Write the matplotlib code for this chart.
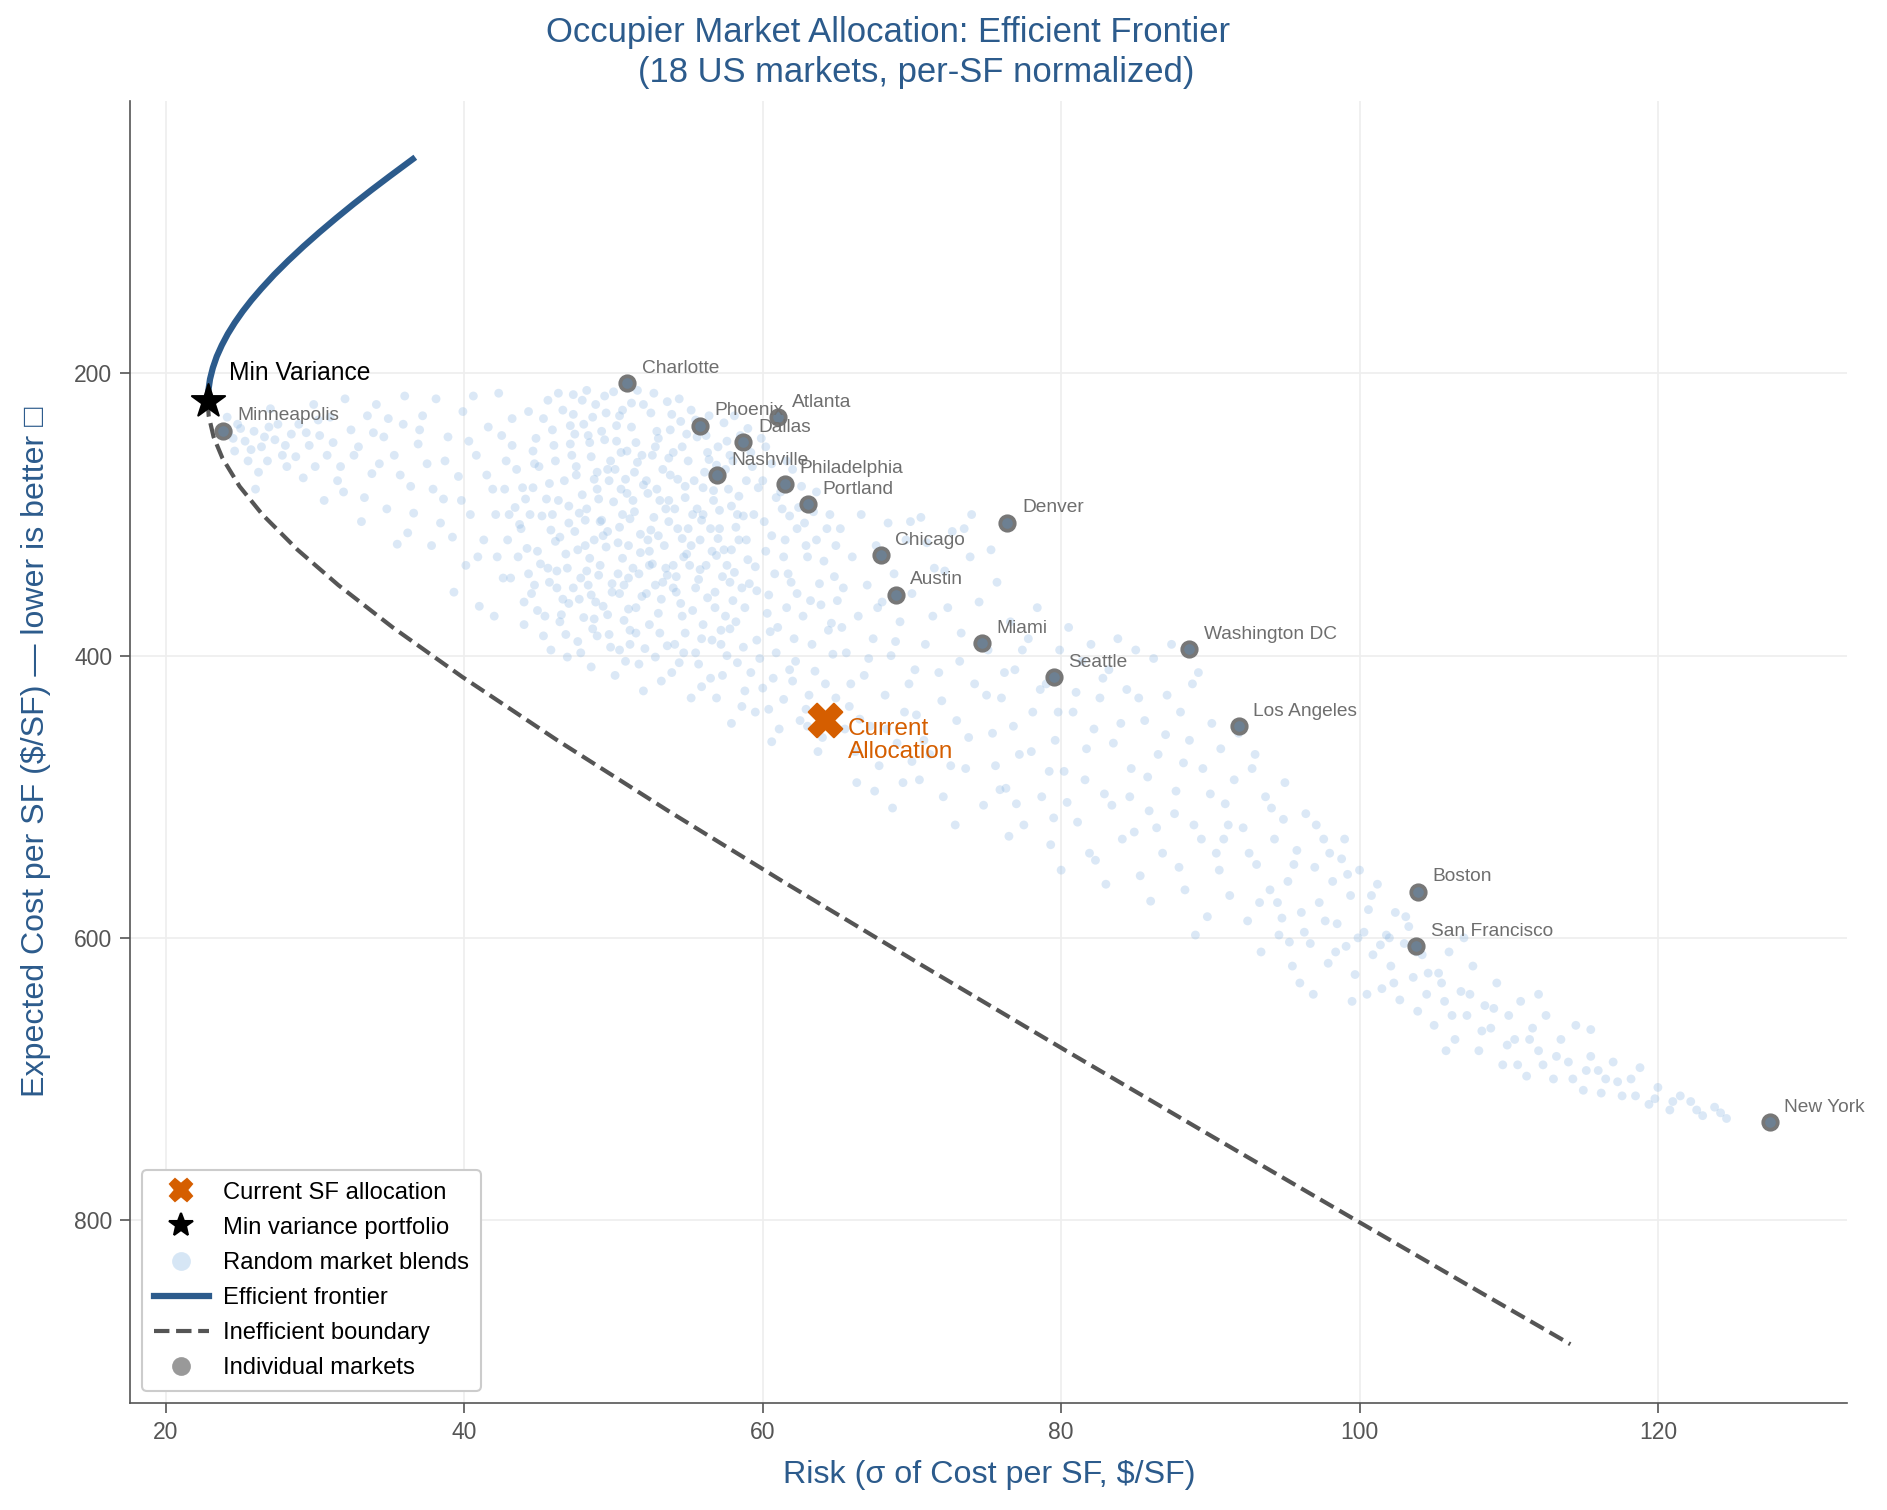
import matplotlib
matplotlib.use("Agg")
import matplotlib.pyplot as plt
from matplotlib.lines import Line2D
import numpy as np

plt.rcParams['font.family'] = ['Liberation Sans', 'DejaVu Sans']

# --- individual markets (risk = sigma of cost per SF, cost = expected cost per SF)
markets = ["Charlotte", "Phoenix", "Atlanta", "Dallas", "Nashville", "Philadelphia",
           "Portland", "Denver", "Chicago", "Austin", "Miami", "Washington DC",
           "Seattle", "Los Angeles", "Boston", "San Francisco", "New York", "Minneapolis"]
market_risk = [50.9, 55.8, 61.0, 58.7, 56.9, 61.5, 63.0, 76.4, 67.9, 68.9, 74.7, 88.6,
               79.5, 91.9, 103.9, 103.8, 127.5, 23.8]
market_cost = [206.8, 237.0, 231.1, 248.5, 272.3, 278.0, 292.8, 305.8, 328.6, 356.9,
               391.3, 395.3, 415.3, 450.2, 567.2, 606.0, 730.7, 240.5]

# current allocation and min variance portfolio
current_risk, current_cost = 64.15, 445.4
minvar_risk, minvar_cost = 22.8, 219.7

# efficient frontier (upper branch)
frontier_risk = [22.80, 22.84, 22.95, 23.14, 23.40, 23.74, 24.14, 24.61, 25.14, 25.73,
                 26.38, 27.25, 28.20, 29.21, 30.28, 31.40, 32.56, 33.77, 35.02, 36.54]
frontier_cost = [219.7, 212, 204, 196, 188, 180, 172, 164, 156, 148, 140, 130, 120, 110,
                 100, 90, 80, 70, 60, 48.1]

# inefficient (lower) boundary
ineff_risk = [22.80, 22.86, 23.19, 23.78, 24.93, 26.46, 28.82, 31.55, 35.20, 39.85, 46.23,
              53.66, 61.34, 70.76, 80.33, 90.0, 99.74, 107.9, 114.13]
ineff_cost = [219.7, 230, 245, 260, 280, 300, 325, 350, 380, 415, 460, 510, 560, 620, 680,
              740, 800, 850, 888]

# random market blends (risk, cost), estimated from the cloud by region
blends_west = [
    (24.2, 242), (24.8, 236), (25.3, 248), (24.6, 255), (25.9, 241), (26.4, 252), (25.5, 262),
    (26.9, 238), (27.3, 247), (24.1, 231), (27.8, 258), (26.2, 270), (28.4, 243), (28.9, 236),
    (29.6, 251), (28.1, 266), (30.3, 244), (29.2, 274), (31.0, 231), (30.8, 258), (31.7, 266),
    (32.4, 240), (32.9, 252), (33.5, 230), (31.9, 284), (33.8, 271), (34.6, 245), (34.1, 222),
    (35.3, 258), (35.9, 236), (34.8, 296), (36.4, 280), (36.9, 250), (37.5, 264), (37.2, 230),
    (38.1, 218), (38.6, 289), (38.9, 245), (39.6, 273), (36.2, 313), (39.9, 227), (40.4, 300),
    (40.8, 258), (41.3, 318), (41.6, 238), (41.9, 282), (42.3, 214), (42.6, 345), (42.8, 262),
    (40.1, 336), (43.0, 300), (35.5, 321), (33.1, 305), (37.8, 322), (39.3, 355), (41.0, 365),
    (42.2, 330), (29.9, 222), (27.0, 225), (32.0, 218), (36.0, 216), (30.6, 290), (38.4, 306),
    (40.6, 216), (43.2, 232), (42.0, 372), (26.0, 282),
    (24.5, 246), (25.0, 239), (25.7, 254), (26.6, 245), (27.5, 236), (28.0, 251), (28.7, 259),
    (29.4, 242), (30.0, 266), (31.2, 249), (31.5, 276), (32.6, 258), (33.3, 288), (34.3, 264),
    (34.9, 232), (35.7, 272), (36.6, 299), (37.0, 240), (37.9, 282), (38.7, 262), (39.2, 316),
    (39.8, 290), (40.3, 248), (40.9, 330), (41.5, 272), (42.1, 300), (42.5, 244), (26.8, 262),
    (30.2, 233), (33.9, 242),
]
blends_core = [
    (43.5, 268), (43.8, 310), (44.1, 289), (44.3, 342), (44.6, 255), (44.9, 326), (45.2, 301),
    (45.4, 372), (45.7, 278), (45.9, 240), (46.2, 352), (46.4, 316), (46.6, 226), (46.8, 385),
    (47.0, 294), (43.6, 330), (44.0, 362), (45.0, 266), (45.6, 338), (46.1, 262), (46.9, 338),
    (44.4, 300), (45.3, 232), (46.5, 371), (47.1, 250), (43.9, 281), (45.8, 311), (46.3, 290),
    (44.7, 350), (47.0, 363),
    (47.3, 215), (47.5, 272), (47.6, 325), (47.8, 398), (48.0, 236), (48.1, 304), (48.3, 350),
    (48.5, 259), (48.6, 381), (48.8, 222), (49.0, 289), (49.1, 336), (49.3, 365), (49.4, 247),
    (49.6, 312), (49.8, 394), (50.0, 213), (50.1, 268), (50.3, 342), (50.4, 230), (50.6, 300),
    (50.7, 375), (50.9, 255), (51.0, 322), (47.4, 243), (47.9, 286), (48.4, 331), (48.9, 270),
    (49.5, 228), (49.9, 355), (50.5, 282), (50.8, 404), (47.7, 360), (48.2, 212), (49.2, 304),
    (50.2, 248), (51.0, 345), (48.7, 318), (49.7, 276), (50.6, 226),
    (51.2, 238), (51.3, 290), (51.5, 366), (51.6, 212), (51.8, 314), (51.9, 258), (52.1, 395),
    (52.2, 276), (52.4, 336), (52.5, 228), (52.7, 302), (52.8, 350), (53.0, 246), (53.1, 384),
    (53.3, 268), (53.4, 322), (53.6, 220), (53.7, 290), (53.9, 412), (54.0, 256), (54.2, 344),
    (54.3, 310), (54.5, 234), (54.6, 372), (54.8, 280), (54.9, 328), (51.4, 270), (51.7, 342),
    (52.0, 222), (52.3, 318), (52.9, 282), (53.2, 360), (53.8, 240), (54.1, 296), (54.7, 398),
    (55.0, 262), (51.1, 382), (52.6, 258), (53.5, 338), (54.4, 218),
    (55.2, 226), (55.3, 300), (55.5, 352), (55.6, 245), (55.8, 318), (55.9, 388), (56.1, 270),
    (56.2, 336), (56.4, 230), (56.5, 416), (56.7, 290), (56.8, 366), (57.0, 252), (57.1, 310),
    (57.3, 344), (57.4, 235), (57.6, 400), (57.7, 282), (57.9, 325), (58.0, 262), (58.2, 376),
    (58.3, 300), (58.5, 244), (58.6, 352), (58.8, 425), (58.9, 276), (55.4, 276), (56.0, 300),
    (56.6, 326), (57.2, 382), (57.8, 348), (58.4, 318), (59.0, 332), (55.7, 406), (56.3, 256),
    (57.5, 268), (58.1, 230), (58.7, 394), (55.1, 336), (56.9, 430),
    (59.2, 256), (59.4, 300), (59.6, 354), (59.8, 402), (60.0, 276), (60.2, 326), (60.4, 438),
    (60.6, 264), (60.8, 342), (61.0, 380), (61.3, 296), (61.5, 318), (61.8, 410), (62.0, 268),
    (62.3, 356), (62.5, 446), (62.8, 306), (63.0, 330), (63.3, 392), (63.6, 284), (63.9, 364),
    (64.2, 420), (64.5, 300), (64.8, 344), (59.5, 440), (60.3, 370), (61.1, 452), (62.1, 388),
    (63.1, 428), (64.0, 458), (59.9, 246), (61.7, 342), (62.6, 280), (64.4, 382), (60.7, 416),
]
blends_core_dense = [
    (46.3, 214), (47.9, 219), (49.4, 216), (51.2, 221), (52.7, 214), (48.6, 231), (50.2, 237),
    (53.9, 229), (55.5, 233), (44.8, 246), (46.0, 251), (47.2, 258), (48.3, 244), (49.8, 262),
    (51.5, 249), (52.9, 241), (54.6, 252), (56.2, 244), (57.8, 258), (59.3, 266),
    (43.4, 295), (44.6, 281), (45.5, 289), (46.7, 276), (47.7, 299), (48.9, 282), (50.0, 291),
    (51.1, 303), (52.3, 285), (53.5, 296), (54.8, 288), (56.0, 281), (57.1, 297), (58.4, 287),
    (59.7, 281), (61.2, 284), (62.4, 295),
    (42.9, 318), (44.2, 324), (45.1, 335), (46.1, 319), (47.4, 312), (48.2, 340), (49.5, 323),
    (50.6, 331), (51.8, 327), (53.0, 315), (54.0, 336), (55.2, 322), (56.5, 310), (57.6, 336),
    (58.9, 318), (60.1, 305), (61.4, 330), (62.9, 322), (64.1, 333),
    (43.1, 345), (44.5, 356), (45.7, 348), (46.6, 360), (47.8, 345), (48.8, 362), (49.9, 349),
    (51.0, 367), (52.2, 356), (53.3, 348), (54.5, 363), (55.7, 346), (56.8, 355), (58.0, 361),
    (59.1, 349), (60.4, 357), (61.6, 366), (62.7, 372), (63.8, 349), (65.0, 361),
    (44.0, 378), (45.3, 386), (46.4, 376), (47.6, 390), (48.7, 374), (49.7, 385), (51.1, 392),
    (52.4, 378), (53.6, 393), (54.8, 384), (56.0, 378), (57.2, 392), (58.3, 405), (59.6, 389),
    (60.9, 398), (62.2, 404), (63.5, 411), (64.7, 399),
    (46.9, 401), (48.5, 408), (50.1, 414), (51.7, 406), (53.2, 418), (54.4, 405), (55.9, 422),
    (57.3, 414), (58.6, 436), (60.0, 423), (61.4, 431), (62.9, 438), (64.3, 444), (65.5, 452),
    (57.9, 448), (60.6, 461), (63.7, 468), (55.2, 430), (52.0, 425),
    (44.7, 264), (47.3, 229), (50.8, 275), (53.8, 272), (56.9, 265), (58.7, 301), (60.9, 288),
    (55.0, 310), (49.1, 305), (45.9, 300), (57.4, 325), (59.5, 337), (61.9, 348), (63.2, 361),
    (64.6, 377), (52.6, 335), (50.4, 356), (48.0, 373), (46.2, 340), (54.2, 355),
    (47.1, 237), (48.4, 249), (49.2, 241), (50.5, 256), (51.6, 263), (52.8, 252), (53.7, 260),
    (54.9, 243), (56.4, 261), (57.6, 248), (47.5, 266), (48.7, 275), (49.6, 268), (50.9, 285),
    (52.0, 279), (53.1, 290), (54.3, 275), (55.6, 296), (56.7, 283), (57.9, 294),
    (47.0, 306), (48.2, 296), (49.3, 315), (50.4, 309), (51.4, 298), (52.5, 311), (53.7, 305),
    (54.6, 317), (55.9, 304), (57.0, 317), (58.2, 309), (46.8, 328), (48.1, 322), (49.0, 343),
    (50.3, 320), (51.3, 338), (52.4, 326), (53.6, 343), (54.7, 330), (55.8, 339), (56.9, 329),
    (58.1, 341), (47.3, 352), (48.5, 357), (49.6, 371), (50.7, 350), (51.9, 358), (53.0, 370),
    (54.0, 352), (55.3, 368), (56.3, 359), (57.5, 372), (58.8, 366),
    (48.9, 386), (50.4, 396), (51.5, 384), (52.8, 401), (54.1, 392), (55.5, 398), (56.6, 389),
    (57.8, 381), (59.2, 412), (60.5, 383), (59.0, 239), (60.2, 252), (61.6, 262), (62.3, 310),
    (63.6, 318), (64.9, 322), (60.6, 315), (61.8, 301), (63.4, 298), (64.3, 310),
    (44.3, 227), (45.6, 219), (43.2, 251), (42.7, 282), (43.7, 307), (44.9, 368), (45.8, 396),
    (62.0, 418), (63.0, 450), (64.9, 430),
]
blends_mid = [
    (65.2, 310), (65.4, 352), (65.6, 398), (65.8, 436), (66.0, 330), (66.2, 468), (66.4, 372),
    (66.6, 300), (66.8, 414), (67.0, 350), (67.2, 450), (67.4, 388), (67.6, 322), (67.8, 478),
    (68.0, 362), (68.2, 428), (68.4, 306), (68.6, 400), (68.8, 342), (69.0, 462), (69.2, 376),
    (69.4, 490), (69.6, 318), (69.8, 420), (70.0, 356), (70.3, 442), (70.6, 302), (70.9, 392),
    (71.2, 470), (71.5, 338), (71.8, 412), (72.1, 500), (72.4, 366), (72.7, 312), (73.0, 446),
    (73.3, 384), (73.6, 480), (73.9, 330), (74.2, 420), (74.5, 362), (74.8, 506), (75.1, 396),
    (75.4, 455), (75.7, 348), (76.0, 430), (76.3, 494), (76.6, 376), (76.9, 410), (77.2, 470),
    (77.5, 520), (77.8, 388), (78.1, 440), (78.4, 366), (78.7, 500), (79.0, 420), (79.3, 534),
    (79.6, 460), (79.9, 396), (80.2, 482), (80.5, 380), (80.8, 440), (81.1, 518), (81.4, 404),
    (81.7, 466), (82.0, 392), (82.3, 545), (82.6, 430), (82.9, 498), (83.2, 410), (83.5, 462),
    (83.8, 388), (84.1, 530), (84.4, 424), (84.7, 480), (85.0, 396), (85.3, 556), (85.6, 446),
    (85.9, 510), (86.2, 402), (86.5, 470), (86.8, 540), (87.1, 428), (87.4, 392), (87.7, 496),
    (88.0, 440), (88.3, 566), (88.6, 460), (88.9, 520), (89.2, 412), (89.5, 480), (89.8, 585),
    (90.1, 448), (90.4, 540), (90.7, 466), (91.0, 505), (91.3, 570), (91.6, 488), (91.9, 455),
    (67.5, 496), (70.5, 488), (72.9, 520), (76.5, 528), (80.0, 552), (83.0, 562), (86.0, 574),
    (89.0, 598),
    (65.3, 380), (65.9, 420), (66.5, 445), (67.1, 402), (67.7, 366), (68.3, 452), (68.9, 390),
    (69.5, 440), (70.2, 410), (70.8, 460), (71.4, 372), (72.0, 432), (72.6, 478), (73.2, 404),
    (73.8, 458), (74.4, 392), (75.0, 428), (75.6, 478), (76.2, 412), (76.8, 450), (77.4, 396),
    (78.0, 468), (78.6, 424), (79.2, 482), (79.8, 440), (80.4, 504), (81.0, 426), (81.6, 488),
    (82.2, 452), (82.8, 416), (83.4, 506), (84.0, 448), (84.6, 500), (85.2, 430), (85.8, 486),
    (86.4, 522), (87.0, 456), (87.6, 512), (88.2, 476), (88.8, 420), (89.4, 530), (90.0, 498),
    (90.6, 552), (91.2, 520), (66.3, 490), (68.7, 508), (71.0, 320), (73.5, 310), (75.3, 325),
    (72.2, 340), (74.0, 300), (69.9, 305), (81.9, 540), (84.9, 525), (87.9, 550), (90.9, 530),
    (77.0, 505), (79.5, 515), (70.0, 475), (75.9, 495),
]
blends_lower = [
    (92.2, 522), (92.5, 588), (92.8, 480), (93.1, 548), (93.4, 610), (93.7, 500), (94.0, 566),
    (94.3, 530), (94.6, 598), (94.9, 516), (95.2, 560), (95.5, 620), (95.8, 538), (96.1, 582),
    (96.4, 512), (96.7, 604), (97.0, 550), (97.3, 575), (97.6, 530), (97.9, 618), (98.2, 560),
    (98.5, 590), (98.8, 544), (99.1, 606), (99.4, 570), (99.7, 626), (100.0, 552), (100.3, 596),
    (100.6, 580), (100.9, 612), (101.2, 562), (101.5, 636), (101.8, 598), (102.1, 620),
    (102.4, 582), (102.7, 644), (103.0, 604), (103.3, 592), (103.6, 628), (103.9, 652),
    (104.2, 612), (104.5, 640), (93.0, 470), (95.0, 490), (99.0, 530), (96.0, 632), (98.0, 540),
    (100.5, 640), (94.5, 575), (102.0, 600),
    (92.6, 540), (93.3, 575), (94.1, 508), (94.8, 586), (95.6, 548), (96.3, 596), (97.1, 520),
    (97.7, 588), (98.4, 610), (99.2, 555), (99.9, 600), (100.8, 570), (101.4, 605), (102.3, 632),
    (103.1, 585), (103.8, 610), (104.6, 625), (96.9, 640), (99.5, 645), (95.3, 603),
]
blends_tail = [
    (105.0, 662), (105.3, 625), (105.7, 645), (106.0, 610), (106.4, 672), (106.8, 638),
    (107.2, 655), (107.6, 620), (108.0, 680), (108.4, 648), (108.8, 664), (109.2, 632),
    (109.6, 690), (110.0, 655), (110.4, 672), (110.8, 645), (111.2, 698), (111.6, 664),
    (112.0, 680), (112.5, 655), (113.0, 700), (113.5, 672), (114.0, 688), (114.5, 662),
    (115.0, 708), (115.5, 684), (116.0, 694), (116.5, 700), (117.0, 688), (117.6, 712),
    (118.2, 700), (118.8, 692), (119.4, 718), (120.0, 706), (120.8, 722), (121.5, 712),
    (122.2, 716), (123.0, 726), (123.8, 720), (124.6, 728), (107.0, 600), (112.0, 640),
    (115.5, 665),
    (105.5, 632), (106.2, 655), (107.4, 640), (108.2, 666), (109.0, 650), (109.9, 676),
    (110.6, 690), (111.4, 672), (112.3, 690), (113.2, 684), (114.3, 700), (115.2, 694),
    (116.2, 710), (117.3, 702), (118.5, 712), (119.8, 714), (121.0, 716), (122.6, 722),
    (124.2, 724), (105.8, 680),
]

blend_risk, blend_cost = np.array(blends_west + blends_core + blends_core_dense + blends_mid
                                  + blends_lower + blends_tail).T

# colours
NAVY = '#2c5b8c'
ORANGE = '#d55e00'
GREY = '#555555'

fig = plt.figure(figsize=(12.58, 10.067), dpi=150)
ax = fig.add_axes([0.069, 0.071, 0.910, 0.862])

ax.scatter(blend_risk, blend_cost, s=18, color='#8ab6e2', alpha=0.3,
           edgecolors='none', zorder=1)
ax.plot(frontier_risk, frontier_cost, color=NAVY, lw=3, zorder=3)
ax.plot(ineff_risk, ineff_cost, color=GREY, lw=2, ls='--', zorder=2)

ax.scatter(market_risk, market_cost, s=48, facecolor='#6d8092', edgecolors='#777777',
           linewidths=1.8, zorder=4)
for name, r, c in zip(markets, market_risk, market_cost):
    ax.annotate(name, (r, c), xytext=(7, 5), textcoords='offset points',
                fontsize=9.2, color='#6e6e6e', zorder=6)

ax.scatter([current_risk], [current_cost], marker='X', s=260, color=ORANGE, zorder=5)
ax.annotate("Current\nAllocation", (current_risk, current_cost), xytext=(11, -10),
            textcoords='offset points', fontsize=11.7, color=ORANGE, va='center',
            linespacing=1.1)

ax.scatter([minvar_risk], [minvar_cost], marker='*', s=280, color='black', zorder=5)
ax.annotate("Min Variance", (minvar_risk, minvar_cost), xytext=(10, 10),
            textcoords='offset points', fontsize=11.8, color='black')

ax.set_xlim(17.6, 132.7)
ax.set_ylim(929.5, 7)

fig.text(0.4704, 0.9785, "Occupier Market Allocation: Efficient Frontier",
         ha='center', va='center', color=NAVY, fontsize=16.6)
fig.text(0.4854, 0.9522, "(18 US markets, per-SF normalized)",
         ha='center', va='center', color=NAVY, fontsize=16.6)
ax.set_xlabel("Risk (σ of Cost per SF, $/SF)", color=NAVY, fontsize=15.5, labelpad=8)
ax.set_ylabel("Expected Cost per SF ($/SF) — lower is better □", color=NAVY,
              fontsize=15.4, labelpad=11)

ax.grid(True, color='#eeeeee', lw=0.8, zorder=0)
ax.set_axisbelow(True)
for side in ('top', 'right'):
    ax.spines[side].set_visible(False)
for side in ('left', 'bottom'):
    ax.spines[side].set_color(GREY)
ax.tick_params(colors=GREY, labelsize=11, length=5)

handles = [
    Line2D([], [], marker='X', color=ORANGE, ls='none', markersize=11),
    Line2D([], [], marker='*', color='black', ls='none', markersize=12),
    Line2D([], [], marker='o', color='#d6e6f5', ls='none', markersize=8),
    Line2D([], [], color=NAVY, lw=3),
    Line2D([], [], color=GREY, lw=2, ls='--'),
    Line2D([], [], marker='o', color='#999999', ls='none', markersize=8),
]
labels = ["Current SF allocation", "Min variance portfolio", "Random market blends",
          "Efficient frontier", "Inefficient boundary", "Individual markets"]
ax.legend(handles, labels, loc='lower left', fontsize=11.4, frameon=True,
          edgecolor='#cccccc', framealpha=1.0, labelspacing=0.55, handlelength=2.3,
          handletextpad=0.6, borderpad=0.5)

fig.savefig("out.png", dpi=150)
